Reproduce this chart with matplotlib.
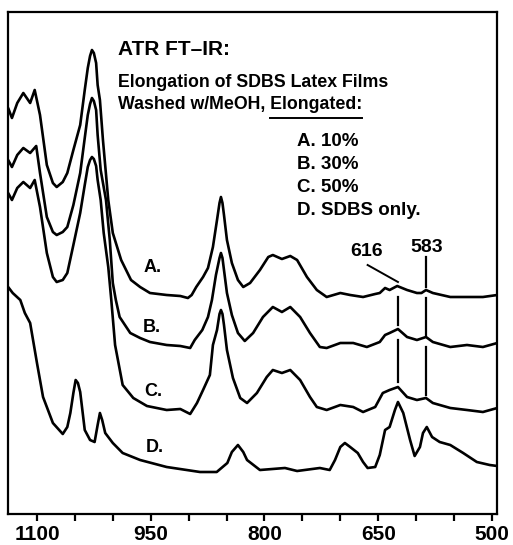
import matplotlib
matplotlib.use("Agg")
import matplotlib.pyplot as plt

plt.rcParams['font.family'] = ['Liberation Sans', 'DejaVu Sans']

# ---- data (wavenumber cm-1, absorbance arb. units) ----
wn_A = [1138, 1133, 1126, 1118, 1109, 1103, 1096, 1087, 1079, 1074, 1066, 1060, 1052, 1043, 1037, 1033,
        1030, 1027.5, 1025, 1022, 1020, 1017, 1013, 1006, 1000, 989, 976, 964, 951, 929, 911, 901, 896,
        890, 881, 874.5, 868, 862.6, 859.3, 857.4, 855.4, 853.4, 849.5, 843, 835, 828, 819, 806, 795,
        789, 777, 766, 757, 744, 731, 718, 700, 687, 670, 654, 648, 641, 635, 625, 612, 599, 593, 587,
        578, 555, 533, 512, 493]
ab_A = [4.06, 3.96, 4.11, 4.21, 4.11, 4.24, 3.99, 3.49, 3.31, 3.27, 3.32, 3.41, 3.64, 3.89, 4.24, 4.46,
        4.58, 4.64, 4.61, 4.51, 4.29, 4.14, 3.74, 3.14, 2.81, 2.54, 2.34, 2.27, 2.21, 2.19, 2.18, 2.16, 2.19,
        2.27, 2.37, 2.46, 2.67, 2.94, 3.11, 3.17, 3.11, 2.99, 2.74, 2.51, 2.34, 2.27, 2.31, 2.44, 2.57,
        2.59, 2.55, 2.58, 2.54, 2.37, 2.24, 2.17, 2.21, 2.19, 2.17, 2.20, 2.21, 2.26, 2.24, 2.28, 2.24,
        2.21, 2.21, 2.24, 2.21, 2.17, 2.17, 2.17, 2.19]

wn_B = [1138, 1133, 1126, 1118, 1109, 1101, 1096, 1087, 1079, 1074, 1066, 1060, 1052, 1043, 1037, 1033,
        1030, 1027.5, 1025, 1022, 1020, 1016, 1009, 1004, 1000, 996, 991, 977, 964, 951, 929, 911, 898,
        892, 882, 874.5, 869.3, 864, 859.3, 857.4, 855.4, 853.4, 849.5, 843, 835, 826, 815, 802, 789,
        777, 766, 753, 740, 727, 718, 700, 683, 665, 648, 641, 635, 624, 612, 599, 587, 578, 555, 533,
        512, 493]
ab_B = [3.54, 3.47, 3.59, 3.66, 3.61, 3.68, 3.41, 2.97, 2.82, 2.79, 2.82, 2.87, 3.09, 3.41, 3.76, 3.99,
        4.10, 4.16, 4.13, 4.04, 3.79, 3.44, 3.14, 2.74, 2.31, 2.14, 1.97, 1.81, 1.76, 1.72, 1.69, 1.68, 1.66,
        1.74, 1.84, 1.97, 2.14, 2.39, 2.56, 2.61, 2.56, 2.44, 2.21, 1.99, 1.81, 1.73, 1.81, 1.97, 2.07,
        2.02, 2.07, 1.97, 1.81, 1.67, 1.66, 1.71, 1.71, 1.67, 1.72, 1.79, 1.81, 1.85, 1.77, 1.74, 1.77,
        1.72, 1.67, 1.69, 1.67, 1.71]

wn_C = [1138, 1133, 1126, 1118, 1109, 1103, 1096, 1087, 1079, 1074, 1066, 1060, 1052, 1043, 1037, 1033,
        1030, 1027.5, 1025, 1022, 1020, 1016, 1012, 1006, 1002, 997, 987, 973, 955, 929, 911, 898, 889,
        881, 872, 868, 862.6, 859.3, 857.4, 855.4, 853.4, 849.5, 841.6, 832, 823, 810, 797, 789, 777,
        766, 753, 740, 731, 718, 700, 683, 670, 654, 644, 635, 624, 612, 599, 587, 578, 555, 533, 512, 493]
ab_C = [3.21, 3.14, 3.26, 3.32, 3.26, 3.34, 3.07, 2.61, 2.37, 2.32, 2.34, 2.41, 2.69, 3.01, 3.29, 3.47,
        3.54, 3.57, 3.55, 3.48, 3.34, 3.14, 2.81, 2.47, 2.14, 1.69, 1.29, 1.16, 1.08, 1.04, 1.05, 1.00, 1.11,
        1.24, 1.39, 1.69, 1.84, 2.00, 2.04, 2.00, 1.89, 1.64, 1.36, 1.16, 1.11, 1.21, 1.37, 1.44, 1.41,
        1.44, 1.34, 1.17, 1.07, 1.04, 1.09, 1.07, 1.02, 1.07, 1.21, 1.24, 1.27, 1.17, 1.14, 1.16, 1.11,
        1.06, 1.04, 1.02, 1.06]

wn_D = [1138, 1132, 1122, 1116, 1109, 1100, 1092, 1079, 1066, 1060, 1056, 1052, 1049, 1046, 1043, 1037,
        1030, 1024, 1020, 1017, 1014, 1010, 1000, 987, 964, 929, 885, 863, 849, 843, 835, 828, 823, 806,
        773, 757, 727, 714, 707, 700, 694, 687, 677, 670, 664, 654, 648, 641, 635, 628, 624, 617, 608,
        602, 595, 591, 586, 579, 569, 555, 538, 520, 503, 493]
ab_D = [2.27, 2.21, 2.14, 2.01, 1.91, 1.51, 1.17, 0.91, 0.80, 0.87, 1.01, 1.21, 1.34, 1.31, 1.22, 0.84,
        0.74, 0.72, 0.89, 1.01, 0.94, 0.81, 0.71, 0.61, 0.54, 0.47, 0.42, 0.42, 0.51, 0.62, 0.69, 0.62,
        0.54, 0.44, 0.46, 0.43, 0.46, 0.44, 0.54, 0.67, 0.71, 0.67, 0.61, 0.52, 0.46, 0.47, 0.59, 0.84,
        0.87, 1.04, 1.12, 1.01, 0.74, 0.58, 0.67, 0.81, 0.87, 0.77, 0.72, 0.69, 0.61, 0.52, 0.49, 0.48]

curve_labels = ["A.", "B.", "C.", "D."]
label_wn = [947, 948, 947, 944]
label_ab = [2.46, 1.86, 1.22, 0.66]

legend_lines = ["A. 10%", "B. 30%", "C. 50%", "D. SDBS only."]
major_ticks = [1100, 950, 800, 650, 500]
minor_ticks = [1050, 1000, 900, 850, 750, 700, 600, 550]

fig = plt.figure(figsize=(5.13, 5.45), dpi=100)
ax = fig.add_axes([8/513, 31/545, 489/513, 502/545])

lw = 1.9
for wn, ab in [(wn_A, ab_A), (wn_B, ab_B), (wn_C, ab_C), (wn_D, ab_D)]:
    ax.plot(wn, ab, color='black', lw=lw, solid_joinstyle='round', solid_capstyle='round')

ax.set_xlim(1138.2, 493.4)
ax.set_ylim(0, 5.02)
ax.set_xticks(major_ticks)
ax.set_xticks(minor_ticks, minor=True)
ax.set_xticklabels([str(t) for t in major_ticks], fontsize=15, fontweight='bold')
ax.tick_params(axis='x', which='both', direction='out', length=5, width=1.6, pad=3)
ax.set_yticks([])
for s in ax.spines.values():
    s.set_linewidth(1.6)

for lab, x, y in zip(curve_labels, label_wn, label_ab):
    ax.text(x, y, lab, fontsize=13, fontweight='bold', ha='center', va='center')

# header text
x0 = (118 - 8) / 489
ax.text(x0, 0.915, "ATR FT\u2013IR:", transform=ax.transAxes, fontsize=15, fontweight='bold',
        ha='left', va='baseline')
ax.text(x0, 0.851, "Elongation of SDBS Latex Films", transform=ax.transAxes, fontsize=12.8,
        fontweight='bold', ha='left', va='baseline')
t_full = ax.text(x0, 0.807, "Washed w/MeOH, Elongated:", transform=ax.transAxes, fontsize=12.8,
                 fontweight='bold', ha='left', va='baseline')
fig.canvas.draw()
r = fig.canvas.get_renderer()
bb_full = t_full.get_window_extent(r)
t_tmp = ax.text(0, 0, "Elongated:", fontsize=12.8, fontweight='bold')
w_el = t_tmp.get_window_extent(r).width
t_tmp.remove()
inv = ax.transAxes.inverted()
xa = inv.transform((bb_full.x1 - w_el, 0))[0]
xb = inv.transform((bb_full.x1, 0))[0]
ax.plot([xa, xb], [0.789, 0.789], transform=ax.transAxes, color='black', lw=1.4)

xl = (297 - 8) / 489
for i, s in enumerate(legend_lines):
    ax.text(xl, 0.733 - i * 0.0458, s, transform=ax.transAxes, fontsize=13.5, fontweight='bold',
            ha='left', va='baseline')

# peak annotations
ax.text(665, 2.62, "616", fontsize=14, fontweight='bold', ha='center', va='center')
ax.text(586, 2.66, "583", fontsize=14, fontweight='bold', ha='center', va='center')
ax.plot([664, 624], [2.49, 2.32], color='black', lw=1.4)
for (y1, y2) in [(2.17, 1.89), (1.74, 1.32)]:
    ax.plot([624, 624], [y1, y2], color='black', lw=1.6)
for (y1, y2) in [(2.57, 2.27), (2.16, 1.79), (1.67, 1.19)]:
    ax.plot([587, 587], [y1, y2], color='black', lw=1.6)

fig.savefig("out.png", dpi=100)
